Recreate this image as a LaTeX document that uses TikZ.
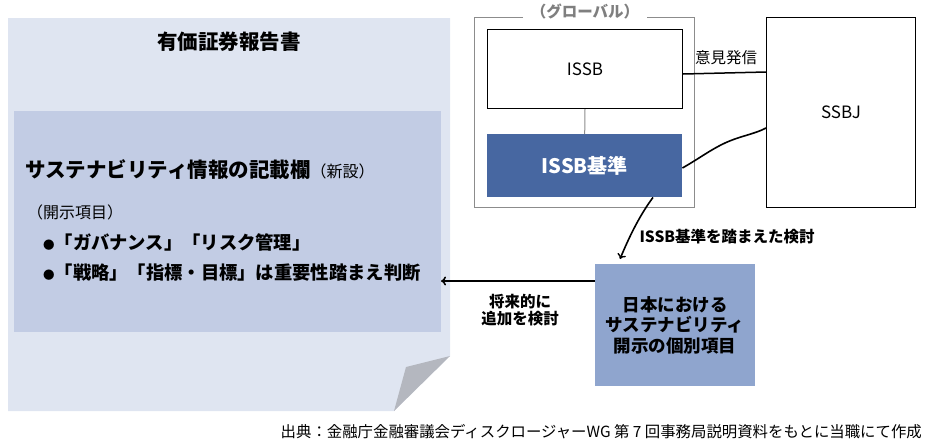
\documentclass[tikz,border=0pt]{standalone}
\usepackage{fontspec}
\setmainfont{Noto Sans CJK JP}
\usetikzlibrary{arrows.meta}
\definecolor{docfill}{HTML}{DFE5F1}
\definecolor{innerfill}{HTML}{C2CCE4}
\definecolor{foldgray}{HTML}{B4B7BF}
\definecolor{issbstd}{HTML}{4767A1}
\definecolor{japanfill}{HTML}{8FA5CE}
\definecolor{globalgray}{HTML}{8C8C8C}
\definecolor{labelgray}{HTML}{7F7F7F}
\newcommand{\smbullet}{{\fontsize{11.5}{11.5}\selectfont ●}}
\tikzset{
  fs/.style={font=\fontsize{#1}{#1}\selectfont},
  fsb/.style={font=\fontsize{#1}{#1}\selectfont\bfseries},
  whitebox/.style={draw=black, line width=1pt, fill=white, inner sep=0pt},
  conn/.style={line width=1.6pt, black},
  thinconn/.style={line width=1pt, black},
  arr/.style={line width=2.2pt, black, -{To[length=5pt,width=9pt,line width=1.6pt]}},
  arrthin/.style={line width=1.6pt, black, -{To[length=5pt,width=9pt,line width=1.4pt]}},
}
\begin{document}
\begin{tikzpicture}[x=1pt,y=-1pt]
\useasboundingbox (0,0) rectangle (927,445);
% document page with folded corner
\fill[docfill] (8,18) -- (450,18) -- (450,356) -- (394,411) -- (8,411) -- cycle;
\fill[foldgray] (406,367) -- (450,356) -- (394,411) -- cycle;
\node[fsb=20.5] (title) at (229,42) {有価証券報告書};
% inner section
\fill[innerfill] (14,111) rectangle (441,332);
\coordinate (docin) at (441,281);
\node[anchor=west, inner sep=0pt] (sec) at (25,170) {{\fontsize{20.5}{20.5}\selectfont\bfseries サステナビリティ情報の記載欄}{\fontsize{16}{16}\selectfont （新設）}};
\node[anchor=west, inner sep=0pt, fs=16] (items) at (27,212) {（開示項目）};
\node[anchor=west, inner sep=0pt, fsb=18.3] (b1) at (43,242) {\smbullet「ガバナンス」「リスク管理」};
\node[anchor=west, inner sep=0pt, fsb=18.3] (b2) at (43,273) {\smbullet「戦略」「指標・目標」は重要性踏まえ判断};
% global box
\draw[globalgray, line width=1pt] (523,17) -- (474,17) -- (474,207) -- (694,207) -- (694,17) -- (647,17);
\node[fsb=15.5, text=labelgray] (glob) at (585,11) {（グローバル）};
\node[whitebox, minimum width=195pt, minimum height=79pt, anchor=north west, fs=17] (issb) at (487,29) {ISSB};
\node[fill=issbstd, text=white, minimum width=195pt, minimum height=63pt, anchor=north west, inner sep=0pt, fsb=20] (std) at (487,134) {ISSB基準};
\draw[globalgray, line width=1pt] (issb.south) -- (std.north);
% SSBJ
\node[whitebox, minimum width=149pt, minimum height=190pt, anchor=north west, fs=17] (ssbj) at (766,17) {SSBJ};
\draw[thinconn, line width=1.5pt] (issb.east |- 0,74) -- (ssbj.west |- 0,72);
\node[fs=15.5] (opin) at (726,58) {意見発信};
\draw[conn] (std.east |- 0,168) .. controls (700,158) and (710,150) .. (725,143) .. controls (740,136) and (755,134) .. (ssbj.west |- 0,128);
% Japan box
\node[fill=japanfill, minimum width=160pt, minimum height=122pt, anchor=north west, inner sep=0pt] (jp) at (595,264) {};
\node[fsb=17.5, align=center, inner sep=0pt] (jptxt) at (675,325) {日本における\\[3pt]サステナビリティ\\[3pt]開示の個別項目};
\draw[arrthin] (std.south -| 653,0) .. controls (640,215) and (630,235) .. (620,259);
\node[fsb=15.5, anchor=west] (kentou) at (636,237) {ISSB基準を踏まえた検討};
\draw[arr] (jp.west |- 0,281) -- (docin);
\node[fsb=15.5, align=center, inner sep=0pt] (future) at (520,310) {将来的に\\[1pt]追加を検討};
% footer
\node[fs=15.4, anchor=east, inner sep=0pt] (src) at (922,432) {出典：金融庁金融審議会ディスクロージャーWG 第 7 回事務局説明資料をもとに当職にて作成};
\end{tikzpicture}
\end{document}
